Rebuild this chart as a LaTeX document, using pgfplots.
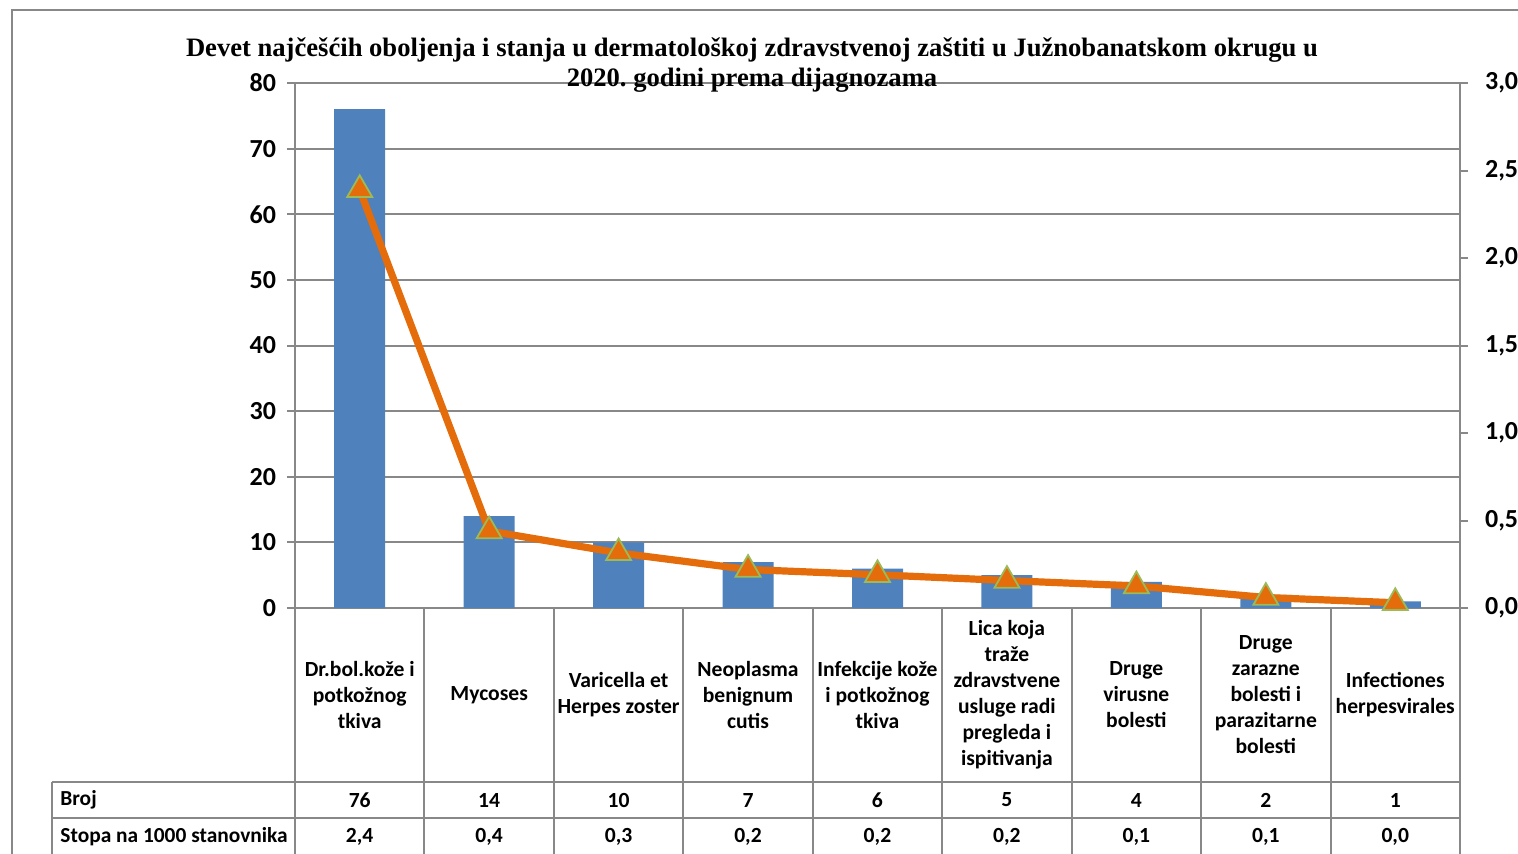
\documentclass[border=0pt]{standalone}
\usepackage{pgfplots}
\usepackage{pgfplotstable}
\pgfplotsset{compat=1.18}
\usepackage{fontspec}
\setmainfont{Carlito}
\newfontfamily\titlefont{Liberation Serif}
\definecolor{barblue}{HTML}{4F81BD}
\definecolor{lineorange}{HTML}{E46C0A}
\definecolor{markgreen}{HTML}{9BBB59}
\definecolor{gridgray}{HTML}{888888}

% x = category index, broj = count, stopa = rate per 1000
\pgfplotstableread{
x broj stopa
0 76 2.39
1 14 0.44
2 10 0.315
3 7  0.22
4 6  0.19
5 5  0.157
6 4  0.126
7 2  0.060
8 1  0.030
}\datatable

\pgfplotsset{
    common/.style={
        scale only axis,
        width=582.5pt, height=262.5pt,
        at={(0,0)}, anchor=south west,
        xmin=-0.5, xmax=8.5,
        clip=false,
        axis line style={gridgray, line width=1pt},
        tick style={gridgray, line width=1pt},
        tick align=outside,
        major tick length=4pt,
        ticklabel style={font=\fontsize{13}{15}\selectfont\bfseries},
        /pgf/number format/assume math mode=true,
    },
}

\begin{document}
\begin{tikzpicture}
\begin{axis}[common,
    axis y line*=left, axis x line*=bottom,
    ymin=0, ymax=80, ytick={0,10,...,80},
    ymajorgrids, grid style={gridgray, line width=1pt},
    xtick={0,...,8}, xticklabels={},
    x tick style={draw=none},
    yticklabel style={xshift=-2pt},
]
\addplot[ybar, bar width=25.5pt, fill=barblue, draw=none] table[x=x, y=broj] {\datatable};
\end{axis}
\begin{axis}[common,
    axis y line*=right, axis x line=none,
    ymin=0, ymax=3, ytick={0,0.5,...,3},
    yticklabel style={/pgf/number format/fixed, /pgf/number format/fixed zerofill,
        /pgf/number format/precision=1, /pgf/number format/use comma, xshift=5pt},
]
\addplot[color=lineorange, line width=3.6pt, mark=triangle*, mark size=7.2pt,
    mark options={fill=lineorange, draw=markgreen, line width=0.9pt}] table[x=x, y=stopa] {\datatable};
\end{axis}

\begin{scope}[x=0.5pt, y=-0.5pt, shift={(-147.5pt,304pt)}]
  % outer chart frame
  \draw[gridgray, line width=1pt] (12,900) -- (12,10) -- (1600,10);
  % title
  \node[anchor=base, font=\titlefont\bfseries\fontsize{13.3}{15}\selectfont] at (752,57)
    {Devet najčešćih oboljenja i stanja u dermatološkoj zdravstvenoj zaštiti u Južnobanatskom okrugu u};
  \node[anchor=base, font=\titlefont\bfseries\fontsize{13.3}{15}\selectfont] at (752,87)
    {2020.\ godini prema dijagnozama};
  % data table grid
  \draw[gridgray, line width=1pt] (52,782) -- (1460,782) (52,818) -- (1460,818) (52,856) -- (1460,856);
  \draw[gridgray, line width=1pt] (52,782) -- (52,900);
  \foreach \k in {0,...,9} {
    \draw[gridgray, line width=1pt] ({295+\k*129.44},608) -- ({295+\k*129.44},900);
  }
  % category names
  \foreach \k/\t in {
      0/{Dr.bol.kože i\\potkožnog\\tkiva},
      1/{Mycoses},
      2/{Varicella et\\Herpes zoster},
      3/{Neoplasma\\benignum\\cutis},
      4/{Infekcije kože\\i potkožnog\\tkiva},
      5/{Lica koja\\traže\\zdravstvene\\usluge radi\\pregleda i\\ispitivanja},
      6/{Druge\\virusne\\bolesti},
      7/{Druge\\zarazne\\bolesti i\\parazitarne\\bolesti},
      8/{Infectiones\\herpesvirales}} {
    \node[align=center, font=\fontsize{10.8}{13}\selectfont\bfseries, inner sep=0pt]
      at ({359.7+\k*129.44},695) {\t};
  }
  % row headers
  \node[anchor=west, font=\fontsize{10.7}{13}\selectfont\bfseries, inner sep=0pt] at (60,800) {Broj};
  \node[anchor=west, font=\fontsize{10.7}{13}\selectfont\bfseries, inner sep=0pt] at (60,837) {Stopa na 1000 stanovnika};
  % row values
  \foreach \k/\a/\b in {0/76/{2,4}, 1/14/{0,4}, 2/10/{0,3}, 3/7/{0,2}, 4/6/{0,2},
                        5/5/{0,2}, 6/4/{0,1}, 7/2/{0,1}, 8/1/{0,0}} {
    \node[font=\fontsize{10.8}{13}\selectfont\bfseries, inner sep=0pt] at ({359.7+\k*129.44},800) {\a};
    \node[font=\fontsize{10.8}{13}\selectfont\bfseries, inner sep=0pt] at ({359.7+\k*129.44},837) {\b};
  }
  \pgfresetboundingbox
  \useasboundingbox (0,0) rectangle (1518,853);
\end{scope}
\end{tikzpicture}
\end{document}
